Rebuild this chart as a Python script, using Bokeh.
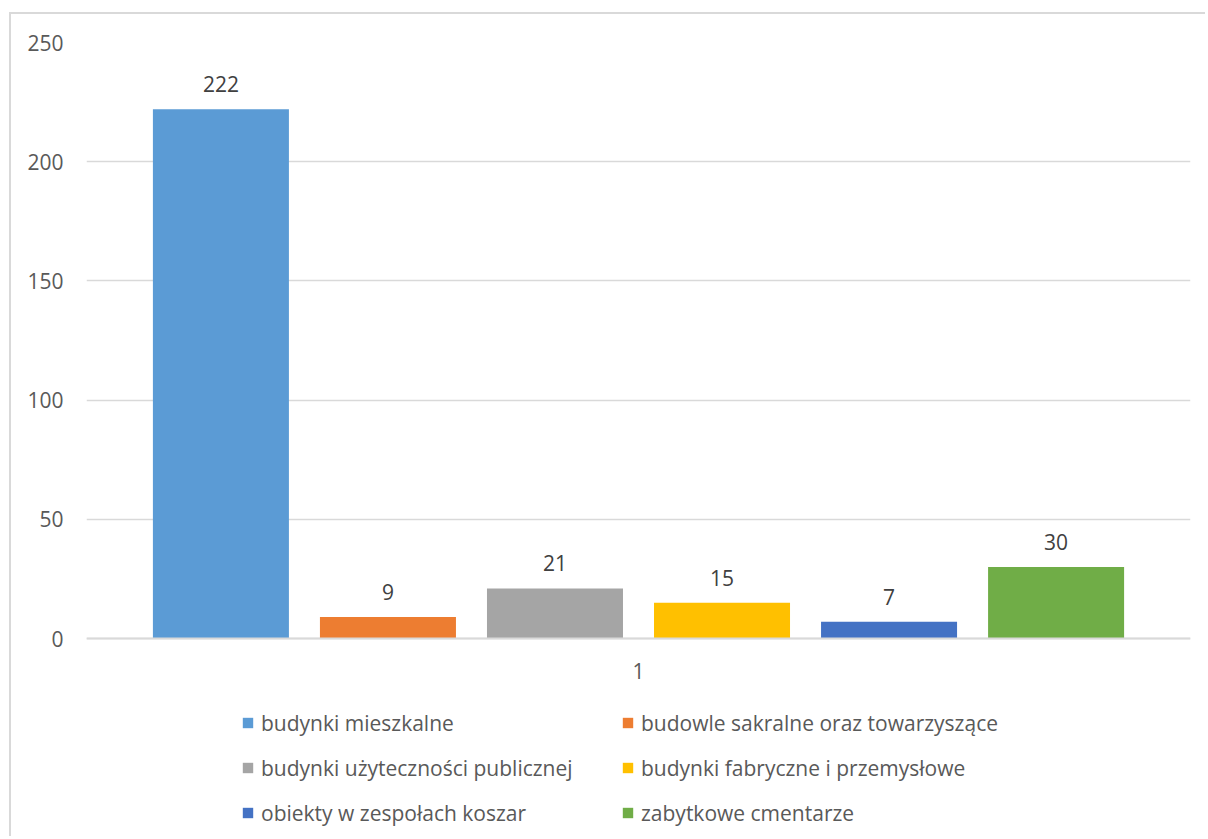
from bokeh.plotting import figure
from bokeh.models import (FactorRange, Range1d, ColumnDataSource, LabelSet, Legend,
                          LegendItem, FixedTicker)
from bokeh.core.properties import value
from bokeh.transform import dodge
from bokeh.embed import file_html
from bokeh.resources import INLINE

# ---- data ----
category = ["1"]
series_names = [
    "budynki mieszkalne",
    "budowle sakralne oraz towarzyszące",
    "budynki użyteczności publicznej",
    "budynki fabryczne i przemysłowe",
    "obiekty w zespołach koszar",
    "zabytkowe cmentarze",
]
series_values = [222, 9, 21, 15, 7, 30]
y_ticks = [0, 50, 100, 150, 200, 250]

# ---- style / layout ----
colors = ["#5b9bd5", "#ed7d31", "#a5a5a5", "#ffc000", "#4472c4", "#70ad47"]
FONT = "Open Sans"
step = 0.1513
bar_w = 0.1232
Y_MAX = 250
# plot frame spans from the top gridline (page y=42) to the bottom of the page (y=838);
# the value axis zero sits at page y=638, leaving room for the legend below it.
y_min = -Y_MAX * (838 - 638) / (638 - 42)

p = figure(
    x_range=FactorRange(factors=category, range_padding=0),
    y_range=Range1d(y_min, Y_MAX),
    width=1196, height=824,
    output_backend="svg", toolbar_location=None,
    min_border_left=75, min_border_top=28, min_border_right=17, min_border_bottom=0,
)
p.styles = {"border-left": "2px solid #d9d9d9", "border-top": "2px solid #d9d9d9",
            "margin-left": "9px", "margin-top": "12px"}
p.outline_line_color = None
p.background_fill_color = "white"
p.border_fill_color = "white"

p.xgrid.grid_line_color = None
p.ygrid.ticker = FixedTicker(ticks=y_ticks)
p.ygrid.grid_line_color = "#d9d9d9"
p.ygrid.grid_line_width = 1.3

p.yaxis.ticker = FixedTicker(ticks=y_ticks)
p.yaxis.axis_line_color = None
p.yaxis.major_tick_line_color = None
p.yaxis.minor_tick_line_color = None
p.yaxis.major_label_standoff = 17
p.yaxis.major_label_text_font = FONT
p.yaxis.major_label_text_font_size = "21px"
p.yaxis.major_label_text_color = "#595959"

p.xaxis.fixed_location = 0
p.xaxis.axis_line_color = "#d9d9d9"
p.xaxis.axis_line_width = 2
p.xaxis.major_tick_line_color = None
p.xaxis.minor_tick_line_color = None
p.xaxis.major_label_standoff = 18
p.xaxis.major_label_text_font = FONT
p.xaxis.major_label_text_font_size = "21px"
p.xaxis.major_label_text_color = "#595959"

items = []
for i, (name, val, col) in enumerate(zip(series_names, series_values, colors)):
    src = ColumnDataSource(dict(x=category, top=[val], lab=[str(val)]))
    off = (i - 2.5) * step
    r = p.vbar(x=dodge("x", off, range=p.x_range), top="top", width=bar_w, bottom=0,
               source=src, fill_color=col, line_color=None)
    lbl = LabelSet(x=dodge("x", off, range=p.x_range), y="top", text="lab", source=src,
                   text_align="center", text_baseline="alphabetic", y_offset=17,
                   text_font=value(FONT), text_font_size=value("21px"),
                   text_color="#404040")
    p.add_layout(lbl)
    items.append(LegendItem(label=name, renderers=[r]))

# legend fills column by column: order items so rows read left-to-right
n_rows = 3
ordered = [items[r * 2 + c] for c in range(2) for r in range(n_rows)]

legend = Legend(items=ordered, ncols=2, location=(155, 9),
                glyph_width=13, glyph_height=13, label_standoff=7,
                label_width=348, label_height=33, spacing=12, padding=0, margin=0,
                label_text_font=FONT, label_text_font_size="21px",
                label_text_color="#595959", border_line_color=None,
                background_fill_alpha=0)
p.add_layout(legend, "center")

open("out.html", "w").write(file_html(p, INLINE))
